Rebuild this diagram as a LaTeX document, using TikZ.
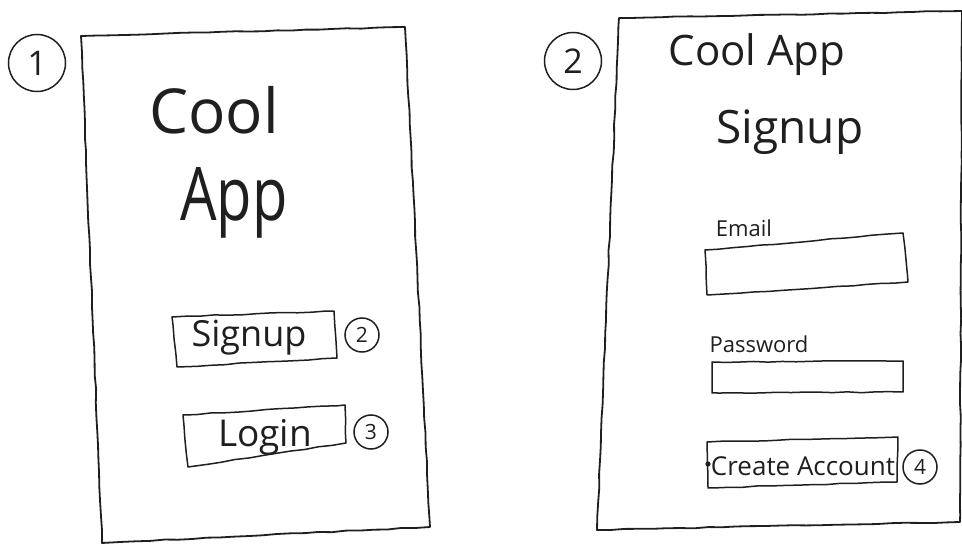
\documentclass[tikz,border=0pt]{standalone}
\usepackage{fontspec}
\setmainfont{Open Sans}
\usetikzlibrary{decorations.pathmorphing}
\begin{document}
\pgfmathsetseed{11}
\begin{tikzpicture}[x=1pt,y=-1pt,
  ink/.style={draw=black!88, line width=1.8pt, line join=round, line cap=round,
    decorate, decoration={random steps, segment length=14pt, amplitude=0.5pt}},
  thin ink/.style={ink, line width=1.5pt},
  numc/.style={circle, draw=black!88, line width=1.5pt, inner sep=0pt, text=black!88},
  bignum/.style={numc, minimum size=57pt, font=\fontsize{34}{34}\selectfont},
  smallnum/.style={numc, minimum size=34pt, font=\fontsize{21}{21}\selectfont},
  hand/.style={text=black!88, inner sep=0pt},
]
\path[use as bounding box] (0,0) rectangle (962,545);

% ---------- screen 1: landing ----------
\node[bignum] (n1) at (37,63) {1};
\draw[ink] (81,36) -- (405,27) -- (430,527) -- (102,543) -- cycle;

\node[hand, font=\fontsize{62}{62}\selectfont] (cool) at (214,110) {Cool};
\node[hand, font=\fontsize{74}{74}\selectfont] (app) at (234,203) {\scalebox{0.78}[1]{App}};

% Signup button
\draw[thin ink] (172,317) -- (334,311) -- (337,358) -- (177,367) -- cycle;
\node[hand, font=\fontsize{36}{36}\selectfont] (signupbtn) at (249,338) {Signup};
\node[smallnum] (n2a) at (362,335) {2};

% Login button
\draw[thin ink] (183,415) -- (345,405) -- (346,443) -- (188,467) -- cycle;
\node[hand, font=\fontsize{37}{37}\selectfont] (loginbtn) at (265,437) {Login};
\node[smallnum] (n3) at (371,432) {3};

% ---------- screen 2: signup form ----------
\node[bignum] (n2) at (573,61) {2};
\draw[ink] (619,18) -- (962,11) -- (960,522) -- (597,530) -- cycle;

\node[hand, font=\fontsize{42}{42}\selectfont] (coolapp) at (757,55) {Cool App};
\node[hand, font=\fontsize{46}{46}\selectfont] (signuptitle) at (790,132) {Signup};

% Email field
\node[hand, font=\fontsize{22}{22}\selectfont] (email) at (744,228) {Email};
\draw[thin ink] (705,250) -- (903,233) -- (908,282) -- (707,295) -- cycle;

% Password field
\node[hand, font=\fontsize{22}{22}\selectfont] (password) at (759,344) {Password};
\draw[thin ink] (712,362) -- (903,361) -- (903,392) -- (712,393) -- cycle;

% Create account button
\draw[thin ink] (707,442) -- (898,437) -- (897,482) -- (708,488) -- cycle;
\fill[black!88] (708,464) circle (2.6pt);
\node[hand, font=\fontsize{26}{26}\selectfont] (createbtn) at (803,466) {Create Account};
\node[smallnum] (n4) at (920,467) {4};
\end{tikzpicture}
\end{document}
